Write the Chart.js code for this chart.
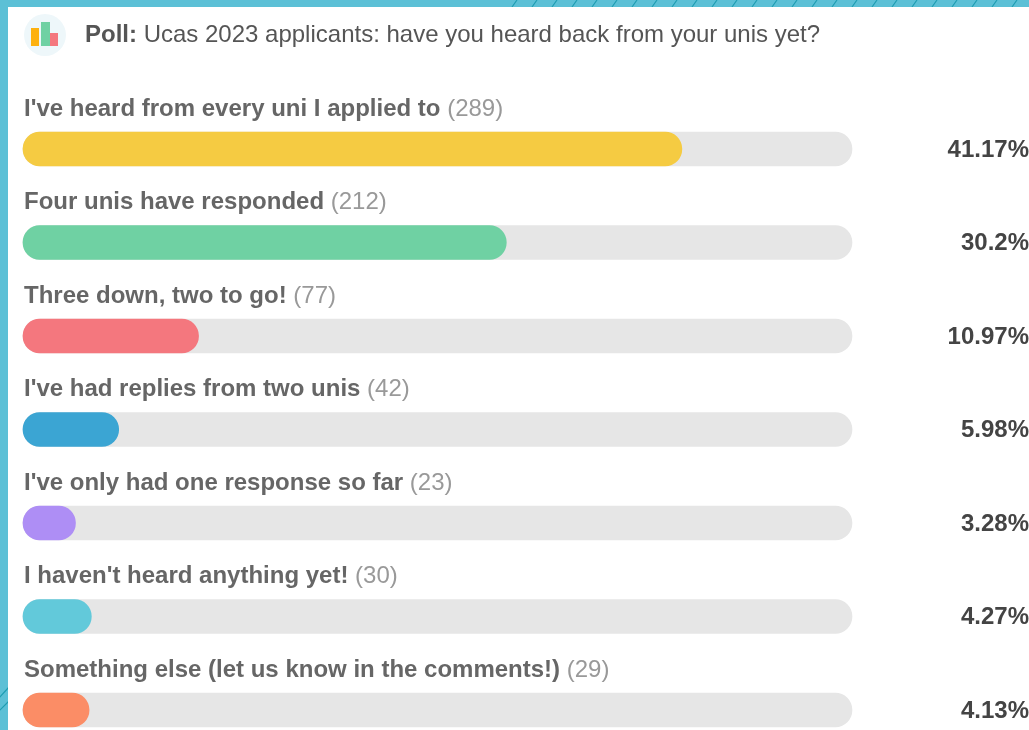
<!DOCTYPE html>
<html>
<head>
<meta charset="utf-8">
<title>Poll</title>
<script src="https://cdn.jsdelivr.net/npm/chart.js@4"></script>
<style>
  html, body { margin: 0; padding: 0; width: 1029px; height: 730px; overflow: hidden; background: #fff; }
  #wrap { width: 1029px; height: 730px; position: relative; }
</style>
</head>
<body>
<div id="wrap"><canvas id="myChart" width="1029" height="730"></canvas></div>
<script>
const categories = [
  "I've heard from every uni I applied to",
  "Four unis have responded",
  "Three down, two to go!",
  "I've had replies from two unis",
  "I've only had one response so far",
  "I haven't heard anything yet!",
  "Something else (let us know in the comments!)"
];
const votes = [289, 212, 77, 42, 23, 30, 29];
const percents = [41.17, 30.2, 10.97, 5.98, 3.28, 4.27, 4.13];
// the grey track runs a bit past the biggest bar
const trackValues = [51.8, 51.8, 51.8, 51.8, 51.8, 51.8, 51.8];
const barColors = ["#f5cb42", "#6fd1a3", "#f4777e", "#3ba5d3", "#ae8ef5", "#62c9da", "#fb8d66"];
const titleBold = "Poll:";
const titleText = "Ucas 2023 applicants: have you heard back from your unis yet?";

const FONT = '"Liberation Sans", Arial, sans-serif';

// teal frame with the diagonal hatching, drawn behind the chart
const framePlugin = {
  id: "frame",
  beforeDraw(chart) {
    const ctx = chart.ctx;
    ctx.save();
    ctx.fillStyle = "#5cc0d6";
    ctx.fillRect(0, 0, 1029, 7);
    ctx.fillRect(0, 0, 8, 730);
    ctx.strokeStyle = "#1f9db2";
    ctx.lineWidth = 1.2;
    ctx.beginPath();
    ctx.rect(0, 0, 1029, 7);
    ctx.rect(0, 680, 8, 50);
    ctx.clip();
    ctx.beginPath();
    for (let x = 512; x < 1100; x += 20) {
      ctx.moveTo(x, 7);
      ctx.lineTo(x + 5, 0);
    }
    ctx.moveTo(-1, 698); ctx.lineTo(9, 687);
    ctx.moveTo(-1, 711); ctx.lineTo(9, 701);
    ctx.stroke();
    ctx.restore();
  }
};

// texts above and beside every bar, placed from the chart's own scale
const labelPlugin = {
  id: "labels",
  afterDraw(chart) {
    const ctx = chart.ctx;
    const yScale = chart.scales.y;
    ctx.save();
    ctx.textBaseline = "middle";

    // icon
    ctx.fillStyle = "#eef7fa";
    ctx.beginPath();
    ctx.arc(45, 35, 21, 0, Math.PI * 2);
    ctx.fill();
    ctx.fillStyle = "#fdb10f";
    ctx.fillRect(31, 28, 8, 18);
    ctx.fillStyle = "#6fd1a3";
    ctx.fillRect(41, 22, 9, 24);
    ctx.fillStyle = "#f4777e";
    ctx.fillRect(50, 33, 8, 13);

    // title
    ctx.textAlign = "left";
    ctx.fillStyle = "#555";
    ctx.font = "bold 24px " + FONT;
    ctx.fillText(titleBold, 85, 35);
    const tw = ctx.measureText(titleBold + " ").width;
    ctx.font = "24px " + FONT;
    ctx.fillText(titleText, 85 + tw, 35);

    categories.forEach((name, i) => {
      const y = yScale.getPixelForValue(i);
      ctx.textAlign = "left";
      ctx.font = "bold 24px " + FONT;
      ctx.fillStyle = "#666";
      ctx.fillText(name, 24, y - 40);
      const w = ctx.measureText(name + " ").width;
      ctx.font = "24px " + FONT;
      ctx.fillStyle = "#999";
      ctx.fillText("(" + votes[i] + ")", 24 + w, y - 40);
      ctx.textAlign = "right";
      ctx.font = "bold 24px " + FONT;
      ctx.fillStyle = "#444";
      ctx.fillText(percents[i] + "%", 1029, y + 1);
    });
    ctx.restore();
  }
};

new Chart("myChart", {
  type: "bar",
  plugins: [framePlugin, labelPlugin],
  data: {
    labels: categories,
    datasets: [
      {
        data: percents,
        backgroundColor: barColors,
        borderRadius: 17,
        borderSkipped: false,
        barThickness: 34,
        grouped: false,
        clip: false,
        order: 1
      },
      {
        data: trackValues,
        backgroundColor: "#e6e6e6",
        borderRadius: 17,
        borderSkipped: false,
        barThickness: 34,
        grouped: false,
        clip: false,
        order: 2
      }
    ]
  },
  options: {
    indexAxis: "y",
    responsive: false,
    animation: false,
    layout: { padding: { left: 23, right: 177, top: 149, bottom: 20 } },
    plugins: { legend: { display: false }, title: { display: false }, tooltip: { enabled: false } },
    scales: {
      x: { display: false, min: 0, max: 51.8 },
      y: { display: false, offset: false }
    }
  }
});
</script>
</body>
</html>
